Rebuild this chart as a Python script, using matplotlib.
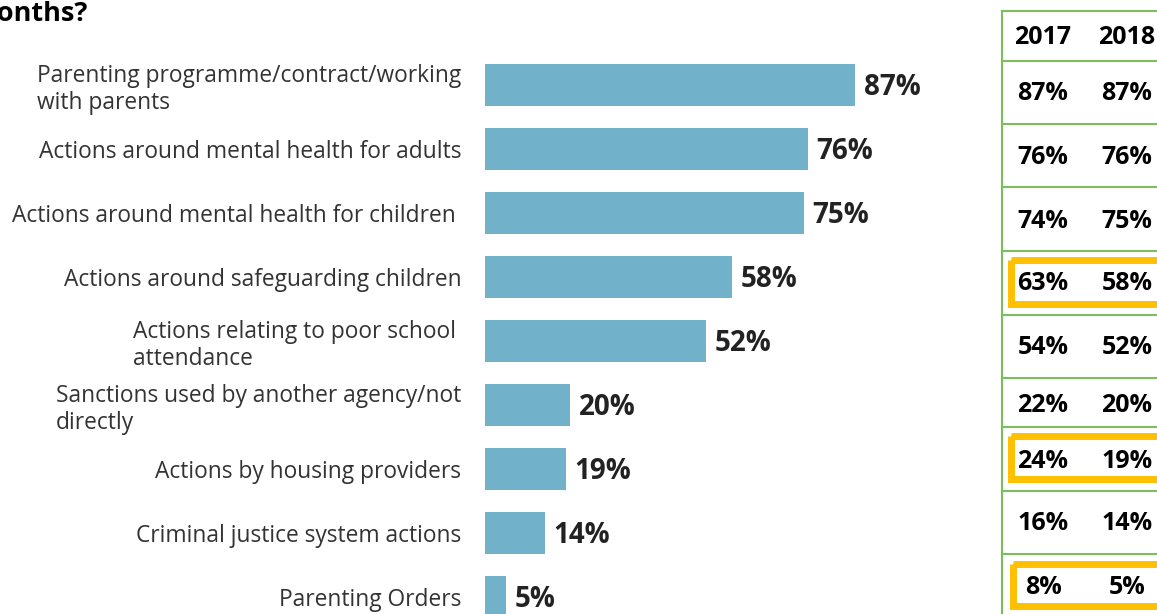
import numpy as np
import matplotlib.pyplot as plt
from matplotlib.patches import Rectangle

plt.rcParams['font.family'] = ['Open Sans', 'DejaVu Sans']

categories = [
    'Parenting programme/contract/working\nwith parents',
    'Actions around mental health for adults',
    'Actions around mental health for children ',
    'Actions around safeguarding children',
    'Actions relating to poor school \nattendance',
    'Sanctions used by another agency/not\ndirectly',
    'Actions by housing providers',
    'Criminal justice system actions',
    'Parenting Orders',
]
pct_2018 = [87, 76, 75, 58, 52, 20, 19, 14, 5]
pct_2017 = [87, 76, 74, 63, 54, 22, 24, 16, 8]
years = ['2017', '2018']
highlight = [3, 6, 8]   # rows boxed in the comparison table

bar_col = '#71B1CA'
grid_col = '#7DBE5C'
box_col = '#FFC000'

W, H = 1157, 614
fig = plt.figure(figsize=(W / 100, H / 100), dpi=100)

# bar panel, y in row units: row i centred at 85 + 64*i px
x0, x1 = 485, 960
ax = fig.add_axes([x0 / W, 0, (x1 - x0) / W, 1])
ax.set_xlim(0, (x1 - x0) / 4.253)
ax.set_ylim((H - 85) / 64, -85 / 64)
ypos = np.arange(len(categories))
ax.barh(ypos, pct_2018, height=0.66, color=bar_col, edgecolor='none')
for y, v in zip(ypos, pct_2018):
    ax.text(v + 2.0, y + 0.04, f'{v}%', va='center', ha='left',
            fontsize=20, fontweight='bold', color='#222222')
ax.set_yticks(ypos)
ax.set_yticklabels(categories, fontsize=16.4, color='#333333',
                   linespacing=1.15)
for t in ax.get_yticklabels():
    t.set_multialignment('left')
ax.tick_params(axis='y', length=0, pad=17)
ax.set_xticks([])
for s in ax.spines.values():
    s.set_visible(False)
ax.patch.set_visible(False)

# overlay in pixel coordinates for the title fragment and the table
ov = fig.add_axes([0, 0, 1, 1])
ov.set_xlim(0, W)
ov.set_ylim(H, 0)
ov.axis('off')
ov.patch.set_visible(False)

ov.text(88, 14, 'months?', ha='right', va='center', fontsize=19.5,
        fontweight='bold', color='black')

tx = 1002
row_edges = [11, 61, 124, 187, 251, 315, 378, 427, 491, 554, 640]
col_x = [1043, 1127]
ov.plot([tx, tx], [row_edges[0], H], color=grid_col, lw=1.5)
for ye in row_edges[:-1]:
    ov.plot([tx, W + 5], [ye, ye], color=grid_col, lw=1.5)

text_y = [37, 94, 158, 221, 284, 348, 405, 461, 523, 587]
for cx, yr in zip(col_x, years):
    ov.text(cx, text_y[0], yr, ha='center', va='center', fontsize=18,
            fontweight='bold', color='black')
for i, (a, b) in enumerate(zip(pct_2017, pct_2018)):
    ty = text_y[i + 1]
    ov.text(col_x[0], ty, f'{a}%', ha='center', va='center', fontsize=18,
            fontweight='bold', color='black')
    ov.text(col_x[1], ty, f'{b}%', ha='center', va='center', fontsize=18,
            fontweight='bold', color='black')

box_rows = {3: (260, 304), 6: (436, 479), 8: (564, 606)}
for r in highlight:
    top, bot = box_rows[r]
    left = 1011 if r != 8 else 1013
    ov.add_patch(Rectangle((left, top), W + 20 - left, bot - top, fill=False,
                           edgecolor=box_col, lw=5))

fig.savefig('out.png', dpi=100)
